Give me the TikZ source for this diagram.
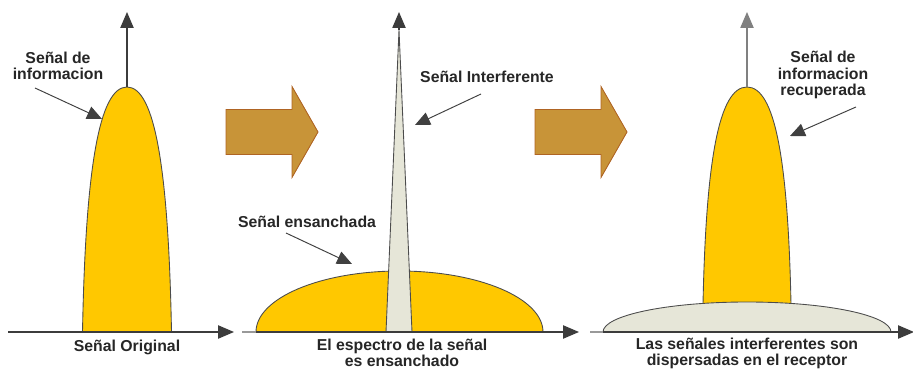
\documentclass[tikz,border=0pt]{standalone}
\usepackage{fontspec}
\setmainfont{Liberation Sans}
\usetikzlibrary{arrows.meta}
\definecolor{senal}{RGB}{255,200,0}
\definecolor{flecha}{RGB}{200,148,56}
\definecolor{flechaborde}{RGB}{175,100,35}
\definecolor{ruido}{RGB}{230,230,216}
\definecolor{ejegris}{RGB}{60,60,60}
\def\blockarrow(#1,#2){\draw[fill=flecha, draw=flechaborde, line width=0.5pt] (#1,#2-22.5) -- (#1+66,#2-22.5) -- (#1+66,#2-45.5) -- (#1+92,#2) -- (#1+66,#2+45.5) -- (#1+66,#2+22.5) -- (#1,#2+22.5) -- cycle;}
\tikzset{
  ejeflecha/.style={draw=ejegris, line width=0.7pt, -{Triangle[length=9pt,width=7.5pt]}},
  puntero/.style={draw=black!75, line width=0.55pt, -{Triangle[length=8.5pt,width=7.5pt]}},
  curva/.style={draw=black!70, line width=0.5pt},
  etiqueta/.style={font=\fontsize{9}{9.2}\selectfont\bfseries, align=center, inner sep=0pt, text=black!85}
}

\begin{document}
\begin{tikzpicture}[x=0.02cm, y=-0.02cm]
			%%%%% START %%%%%
			\useasboundingbox (0,0) rectangle (913,371);
			
			% primer panel: senal original
			\filldraw[curva, fill=senal] (82.5,332) .. controls (85.5,170) and (99,87) .. (127,87) .. controls (155,87) and (168.5,170) .. (171.5,332);
			\draw[ejeflecha] (8,332) -- (234,332);
			\draw[ejeflecha] (127,87) -- (127,12);
			
			\node[etiqueta] (lblInfo) at (58,66) {Señal de\\informacion};
			\node[etiqueta] (lblOrig) at (127,347) {Señal Original};
			\coordinate (infoIni) at (35,88);
			\coordinate (infoTip) at (102,119);
			\draw[puntero] (infoIni) -- (infoTip);
			
			\blockarrow(226,132)
			
			% segundo panel: espectro ensanchado
			\filldraw[curva, fill=senal] (256,332) .. controls (256,298.3) and (320.2,271) .. (399.5,271) .. controls (478.8,271) and (543,298.3) .. (543,332);
			\filldraw[curva, fill=ruido] (386,332) -- (399,30) -- (412,332);
			\draw[draw=black!40, line width=0.7pt] (242,332) -- (256,332);
			\draw[ejeflecha] (256,332) -- (579,332);
			\draw[ejeflecha] (399,30) -- (399,12);
			
			\node[etiqueta] (lblInterf) at (487,77) {Señal Interferente};
			\node[etiqueta] (lblEns) at (307,222) {Señal ensanchada};
			\node[etiqueta] (lblEspectro) at (402,353) {El espectro de la señal\\es ensanchado};
			\coordinate (interfIni) at (481,94);
			\coordinate (interfTip) at (415,125);
			\coordinate (ensIni) at (286,233);
			\coordinate (ensTip) at (352,264);
			\draw[puntero] (interfIni) -- (interfTip);
			\draw[puntero] (ensIni) -- (ensTip);
			
			\blockarrow(535,132)
			
			% tercer panel: senal recuperada
			\filldraw[curva, fill=senal] (703,304) .. controls (706,160) and (719,87) .. (747,87) .. controls (775,87) and (788,160) .. (791,304);
			\filldraw[curva, fill=ruido] (603,332) .. controls (603,315.4) and (667.5,302) .. (747,302) .. controls (826.5,302) and (891,315.4) .. (891,332);
			\draw[draw=black!40, line width=0.7pt] (590,332) -- (603,332);
			\draw[ejeflecha] (603,332) -- (914,332);
			\draw[ejeflecha, draw=gray] (747,87) -- (747,12);
			
			\node[etiqueta] (lblRecup) at (823,75) {Señal de\\informacion\\recuperada};
			\node[etiqueta] (lblDisp) at (747,353) {Las señales interferentes son\\dispersadas en el receptor};
			\coordinate (recupIni) at (856,107);
			\coordinate (recupTip) at (790,136);
			\draw[puntero] (recupIni) -- (recupTip);
			
			%%%%% END %%%%%
\end{tikzpicture}
\end{document}
